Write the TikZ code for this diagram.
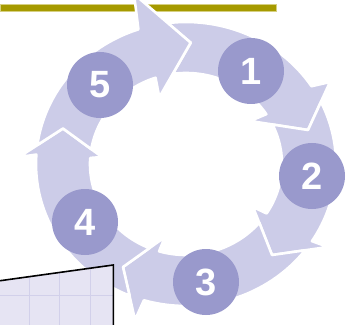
\documentclass[tikz,border=0pt]{standalone}
\usepackage{fontspec}
\setmainfont{Liberation Sans}
\definecolor{bandc}{RGB}{204,204,232}
\definecolor{circc}{RGB}{153,153,204}
\definecolor{olivebar}{RGB}{166,154,0}
\definecolor{olivelite}{RGB}{214,208,130}
\definecolor{boxfill}{RGB}{230,228,243}
\definecolor{gridc}{RGB}{210,208,234}
\begin{document}
\begin{tikzpicture}[x=1pt,y=1pt,
  arrowshape/.style={fill=bandc, draw=white, line width=2.6pt, line join=round},
  numc/.style={circle, fill=circc, minimum size=66pt, inner sep=0pt, text=white,
    font=\fontsize{38}{40}\selectfont\bfseries}]
\useasboundingbox (0,0) rectangle (347,324);
\clip (0,0) rectangle (347,324);
% olive rule
\fill[olivebar, draw=olivelite, line width=0.6pt] (0,312.3) rectangle (276,319.5);
% ring of arrows
\begin{scope}[shift={(186,160)}]
  % arrow 1
  \path[arrowshape] (97.0:150 and 142) arc[start angle=97.0, end angle=33.2, x radius=150, y radius=142]
    -- (144,82) -- (122,34) -- (64,43) -- (33.2:96 and 91)
    arc[start angle=33.2, end angle=97.9, x radius=96, y radius=91] -- (4.7,121.3) -- cycle;
  % arrow 2
  \path[arrowshape] (25.9:150 and 142) arc[start angle=25.9, end angle=-32.9, x radius=150, y radius=142]
    -- (142,-83) -- (86,-91) -- (67,-43) -- (-32.9:96 and 91)
    arc[start angle=-32.9, end angle=25.7, x radius=96, y radius=91] -- (122,34) -- cycle;
  % arrow 3
  \path[arrowshape] (-37.4:150 and 142) arc[start angle=-37.4, end angle=-106.3, x radius=150, y radius=142]
    -- (-51,-156) -- (-63,-103) -- (-21,-73) -- (-106.3:96 and 91)
    arc[start angle=-106.3, end angle=-40.2, x radius=96, y radius=91] -- (86,-91) -- cycle;
  % arrow 4
  \path[arrowshape] (-112.1:150 and 142) arc[start angle=-112.1, end angle=-183.8, x radius=150, y radius=142]
    -- (-167,7) -- (-123,35.5) -- (-84,7) -- (-183.8:96 and 91)
    arc[start angle=-183.8, end angle=-112.4, x radius=96, y radius=91] -- (-63,-103) -- cycle;
  % arrow 5
  \path[arrowshape] (172.3:150 and 142) arc[start angle=172.3, end angle=108.5, x radius=150, y radius=142]
    -- (-52,170) -- (4.7,121.3) -- (-26.7,66.7) -- (108.5:96 and 91)
    arc[start angle=108.5, end angle=170.6, x radius=96, y radius=91] -- (-123,35.5) -- cycle;
\end{scope}
% grid panel at lower left
\fill[boxfill] (0,43) -- (113.3,59) -- (113.3,-5) -- (0,-5) -- cycle;
\begin{scope}
  \clip (0,43) -- (113.3,59) -- (113.3,-5) -- (0,-5) -- cycle;
  \draw[gridc, line width=0.8pt] (29,-5) -- (29,62) (59,-5) -- (59,62) (90,-5) -- (90,62) (-2,28.3) -- (116,28.3);
\end{scope}
\draw[black, line width=1.6pt] (-2,43) -- (113.3,59) -- (113.3,-5);
% numbered markers
\node[numc] (n1) at (251,253) {1};
\node[numc] (n2) at (312,148) {2};
\node[numc] (n3) at (206,42) {3};
\node[numc] (n4) at (85,102) {4};
\node[numc] (n5) at (100,239) {5};
\end{tikzpicture}
\end{document}
